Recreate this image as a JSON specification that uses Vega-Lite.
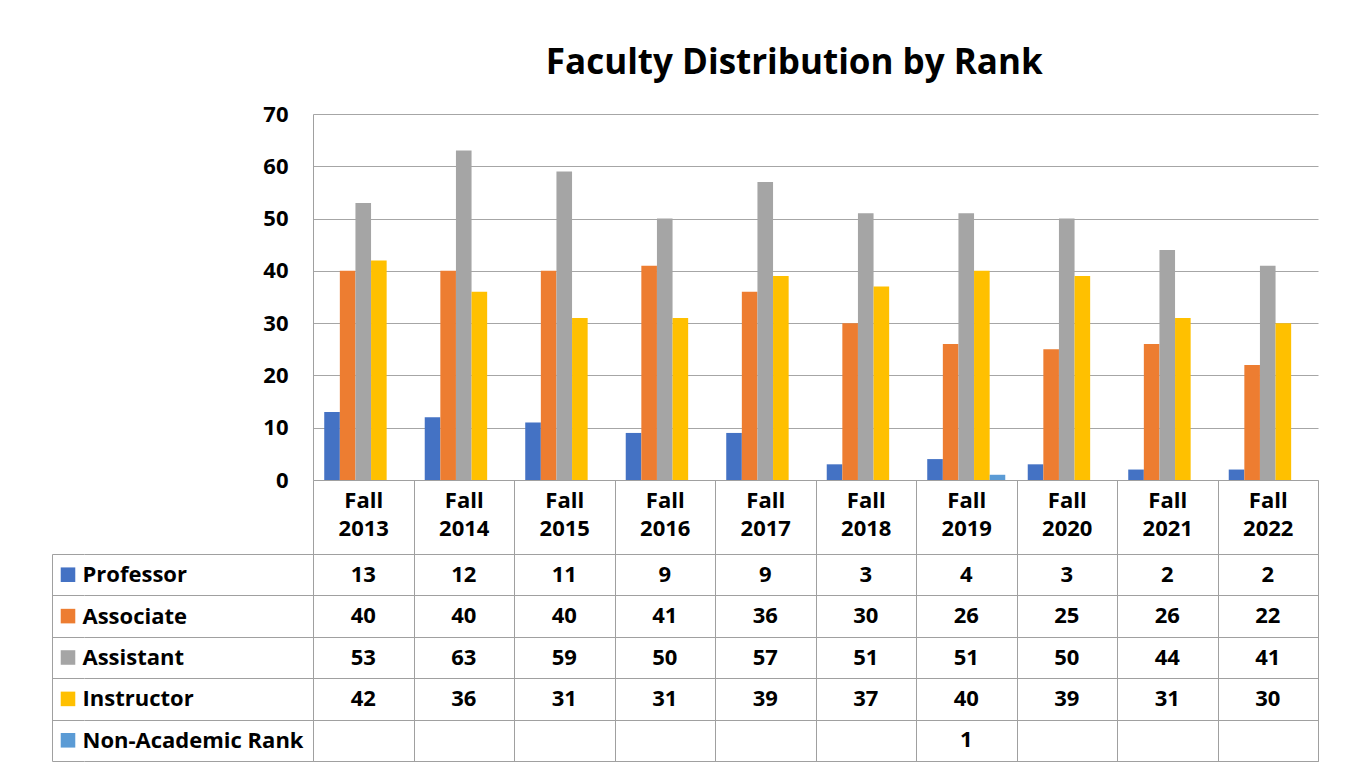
{
  "$schema": "https://vega.github.io/schema/vega-lite/v6.json",
  "background": "white",
  "padding": {"left": 52, "top": 46, "right": 34, "bottom": 7},
  "config": {
    "font": "Open Sans",
    "view": {"stroke": null},
    "axis": {"labelFont": "Open Sans", "labelFontSize": 22, "labelFontWeight": "bold", "labelColor": "#000000", "title": null}
  },
  "datasets": {
    "faculty": [
      {"term": "Fall 2013", "rank": "Professor", "count": 13},
      {"term": "Fall 2014", "rank": "Professor", "count": 12},
      {"term": "Fall 2015", "rank": "Professor", "count": 11},
      {"term": "Fall 2016", "rank": "Professor", "count": 9},
      {"term": "Fall 2017", "rank": "Professor", "count": 9},
      {"term": "Fall 2018", "rank": "Professor", "count": 3},
      {"term": "Fall 2019", "rank": "Professor", "count": 4},
      {"term": "Fall 2020", "rank": "Professor", "count": 3},
      {"term": "Fall 2021", "rank": "Professor", "count": 2},
      {"term": "Fall 2022", "rank": "Professor", "count": 2},
      {"term": "Fall 2013", "rank": "Associate", "count": 40},
      {"term": "Fall 2014", "rank": "Associate", "count": 40},
      {"term": "Fall 2015", "rank": "Associate", "count": 40},
      {"term": "Fall 2016", "rank": "Associate", "count": 41},
      {"term": "Fall 2017", "rank": "Associate", "count": 36},
      {"term": "Fall 2018", "rank": "Associate", "count": 30},
      {"term": "Fall 2019", "rank": "Associate", "count": 26},
      {"term": "Fall 2020", "rank": "Associate", "count": 25},
      {"term": "Fall 2021", "rank": "Associate", "count": 26},
      {"term": "Fall 2022", "rank": "Associate", "count": 22},
      {"term": "Fall 2013", "rank": "Assistant", "count": 53},
      {"term": "Fall 2014", "rank": "Assistant", "count": 63},
      {"term": "Fall 2015", "rank": "Assistant", "count": 59},
      {"term": "Fall 2016", "rank": "Assistant", "count": 50},
      {"term": "Fall 2017", "rank": "Assistant", "count": 57},
      {"term": "Fall 2018", "rank": "Assistant", "count": 51},
      {"term": "Fall 2019", "rank": "Assistant", "count": 51},
      {"term": "Fall 2020", "rank": "Assistant", "count": 50},
      {"term": "Fall 2021", "rank": "Assistant", "count": 44},
      {"term": "Fall 2022", "rank": "Assistant", "count": 41},
      {"term": "Fall 2013", "rank": "Instructor", "count": 42},
      {"term": "Fall 2014", "rank": "Instructor", "count": 36},
      {"term": "Fall 2015", "rank": "Instructor", "count": 31},
      {"term": "Fall 2016", "rank": "Instructor", "count": 31},
      {"term": "Fall 2017", "rank": "Instructor", "count": 39},
      {"term": "Fall 2018", "rank": "Instructor", "count": 37},
      {"term": "Fall 2019", "rank": "Instructor", "count": 40},
      {"term": "Fall 2020", "rank": "Instructor", "count": 39},
      {"term": "Fall 2021", "rank": "Instructor", "count": 31},
      {"term": "Fall 2022", "rank": "Instructor", "count": 30},
      {"term": "Fall 2019", "rank": "Non-Academic Rank", "count": 1}
    ],
    "ranks": [
      {"rank": "Professor"},
      {"rank": "Associate"},
      {"rank": "Assistant"},
      {"rank": "Instructor"},
      {"rank": "Non-Academic Rank"}
    ]
  },
  "title": {
    "text": "Faculty Distribution by Rank",
    "font": "Open Sans",
    "fontSize": 35,
    "fontWeight": "bold",
    "color": "#000000",
    "anchor": "middle",
    "dx": 109,
    "offset": 22
  },
  "columns": 3,
  "spacing": {"row": 74, "column": 0},
  "bounds": "flush",
  "align": "each",
  "resolve": {"scale": {"x": "independent", "y": "independent", "color": "independent"}},
  "concat": [
    {
      "width": 32,
      "height": 366,
      "data": {"values": [{}]},
      "mark": {"type": "text", "text": ""}
    },
    {
      "width": 229,
      "height": 366,
      "data": {"values": [{}]},
      "mark": {"type": "text", "text": ""}
    },
    {
      "width": 1005,
      "height": 366,
      "data": {"name": "faculty"},
      "mark": {"type": "bar"},
      "encoding": {
        "x": {
          "field": "term",
          "type": "nominal",
          "sort": null,
          "scale": {"paddingInner": 0, "paddingOuter": 0},
          "axis": {
            "labelAngle": 0,
            "labelExpr": "split(datum.label, ' ')",
            "labelBaseline": "top",
            "labelLineHeight": 28,
            "labelPadding": -64,
            "tickBand": "extent",
            "tickSize": 74,
            "tickColor": "#A0A0A0",
            "domainColor": "#A0A0A0",
            "grid": false
          }
        },
        "xOffset": {
          "field": "rank",
          "type": "nominal",
          "scale": {
            "domain": ["Professor", "Associate", "Assistant", "Instructor", "Non-Academic Rank"],
            "paddingInner": 0,
            "paddingOuter": 0.72
          }
        },
        "y": {
          "field": "count",
          "type": "quantitative",
          "scale": {"domain": [0, 70], "nice": false},
          "axis": {
            "values": [0, 10, 20, 30, 40, 50, 60, 70],
            "grid": true,
            "gridColor": "#A6A6A6",
            "domainColor": "#A0A0A0",
            "ticks": false,
            "labelPadding": 25
          }
        },
        "color": {
          "field": "rank",
          "type": "nominal",
          "scale": {
            "domain": ["Professor", "Associate", "Assistant", "Instructor", "Non-Academic Rank"],
            "range": ["#4472C4", "#ED7D31", "#A5A5A5", "#FFC000", "#5B9BD5"]
          },
          "legend": null
        }
      }
    },
    {
      "width": 32,
      "height": 207,
      "data": {"name": "ranks"},
      "mark": {"type": "point", "shape": "square", "filled": true, "size": 212, "opacity": 1},
      "encoding": {
        "y": {
          "field": "rank",
          "type": "nominal",
          "sort": null,
          "scale": {
            "domain": ["Professor", "Associate", "Assistant", "Instructor", "Non-Academic Rank"],
            "paddingInner": 0,
            "paddingOuter": 0
          },
          "axis": {
            "labels": false,
            "ticks": false,
            "domain": true,
            "domainColor": "#A0A0A0",
            "grid": true,
            "tickBand": "extent",
            "gridColor": "#A0A0A0"
          }
        },
        "color": {
          "field": "rank",
          "type": "nominal",
          "scale": {
            "domain": ["Professor", "Associate", "Assistant", "Instructor", "Non-Academic Rank"],
            "range": ["#4472C4", "#ED7D31", "#A5A5A5", "#FFC000", "#5B9BD5"]
          },
          "legend": null
        }
      }
    },
    {
      "width": 229,
      "height": 207,
      "data": {"name": "ranks"},
      "mark": {"type": "text", "text": ""},
      "encoding": {
        "y": {
          "field": "rank",
          "type": "nominal",
          "sort": null,
          "scale": {
            "domain": ["Professor", "Associate", "Assistant", "Instructor", "Non-Academic Rank"],
            "paddingInner": 0,
            "paddingOuter": 0
          },
          "axis": {
            "labelAlign": "left",
            "labelPadding": 2,
            "labelLimit": 0,
            "ticks": false,
            "domain": false,
            "grid": true,
            "tickBand": "extent",
            "gridColor": "#A0A0A0"
          }
        }
      }
    },
    {
      "width": 1005,
      "height": 207,
      "view": {"stroke": "#A0A0A0"},
      "data": {"name": "faculty"},
      "mark": {"type": "text", "font": "Open Sans", "fontSize": 22, "fontWeight": "bold", "color": "#000000"},
      "encoding": {
        "x": {
          "field": "term",
          "type": "nominal",
          "sort": null,
          "scale": {"paddingInner": 0, "paddingOuter": 0},
          "axis": {
            "labels": false,
            "ticks": false,
            "domain": false,
            "grid": true,
            "tickBand": "extent",
            "gridColor": "#A0A0A0"
          }
        },
        "y": {
          "field": "rank",
          "type": "nominal",
          "scale": {
            "domain": ["Professor", "Associate", "Assistant", "Instructor", "Non-Academic Rank"],
            "paddingInner": 0,
            "paddingOuter": 0
          },
          "axis": {
            "labels": false,
            "ticks": false,
            "domain": false,
            "grid": true,
            "tickBand": "extent",
            "gridColor": "#A0A0A0"
          }
        },
        "text": {"field": "count", "type": "quantitative"}
      }
    }
  ]
}
